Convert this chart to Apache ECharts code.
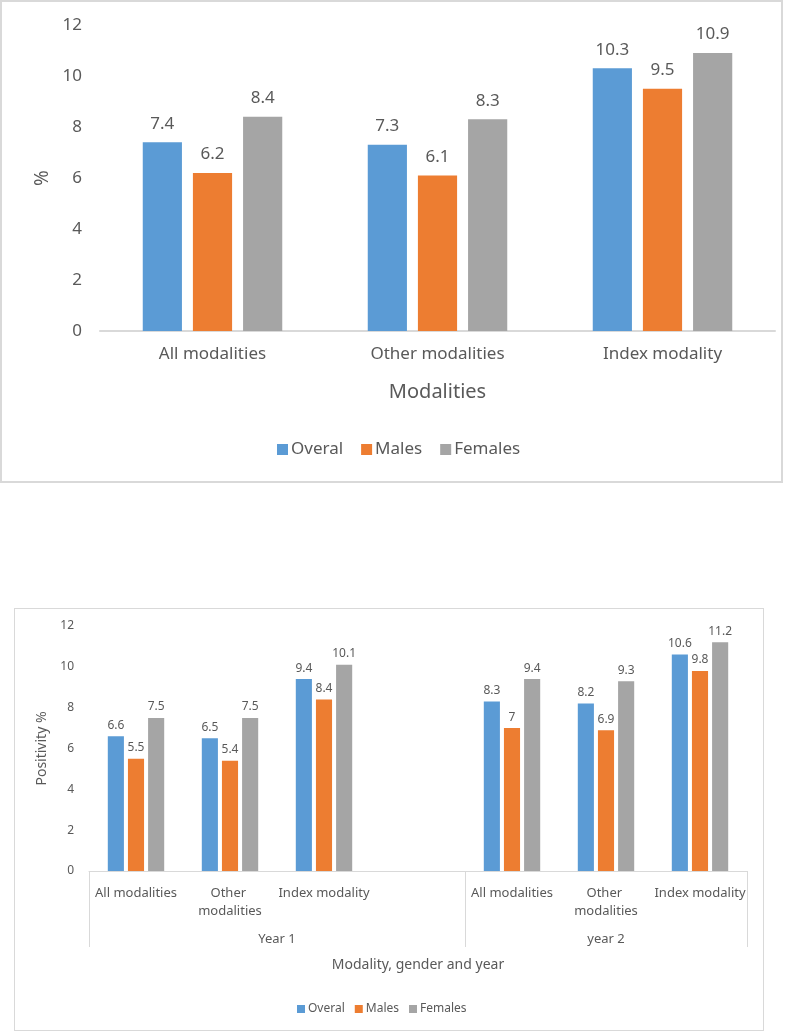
<!DOCTYPE html>
<html>
<head>
<meta charset="utf-8">
<script src="https://cdn.jsdelivr.net/npm/echarts@6/dist/echarts.min.js"></script>
<style>
  html, body { margin: 0; padding: 0; background: #fff; }
  #top { position: absolute; left: 0; top: 0; width: 783px; height: 483px; border: 2px solid #d9d9d9; box-sizing: border-box; }
  #bottom { position: absolute; left: 14px; top: 608px; width: 750px; height: 423px; border: 1px solid #d9d9d9; box-sizing: border-box; }
</style>
</head>
<body>
<div id="top"></div>
<div id="bottom"></div>
<script>
// ---- Data: top chart ----
const topCategories = ['All modalities', 'Other modalities', 'Index modality'];
const topOveral = [7.4, 7.3, 10.3];
const topMales = [6.2, 6.1, 9.5];
const topFemales = [8.4, 8.3, 10.9];

// ---- Data: bottom chart ----
const bottomCategories = ['All modalities', 'Other modalities', 'Index modality', '', 'All modalities', 'Other modalities', 'Index modality'];
const bottomOveral = [6.6, 6.5, 9.4, null, 8.3, 8.2, 10.6];
const bottomMales = [5.5, 5.4, 8.4, null, 7, 6.9, 9.8];
const bottomFemales = [7.5, 7.5, 10.1, null, 9.4, 9.3, 11.2];
const yearLabels = ['Year 1', 'year 2'];
const yearSpans = [4, 3];

const seriesNames = ['Overal', 'Males', 'Females'];
const colors = ['#5b9bd5', '#ed7d31', '#a5a5a5'];
const FONT = '"Noto Sans", "Open Sans", sans-serif';

// ---- Top chart ----
const topChart = echarts.init(document.getElementById('top'));
function topBar(name, data, color) {
  return {
    name: name, type: 'bar', data: data,
    itemStyle: { color: color },
    barCategoryGap: '38%', barGap: '28%',
    label: { show: true, position: 'top', distance: 10, color: '#595959', fontSize: 17, fontFamily: FONT },
    emphasis: { disabled: true }
  };
}
topChart.setOption({
  animation: false,
  textStyle: { fontFamily: FONT },
  color: colors,
  legend: {
    data: seriesNames, left: 270, top: 434,
    itemWidth: 11, itemHeight: 11, itemGap: 18, icon: 'rect',
    textStyle: { fontSize: 17, color: '#595959', fontFamily: FONT, padding: [0, 0, 0, -2] }
  },
  grid: { left: 98, top: 23, width: 675, height: 306 },
  xAxis: {
    type: 'category', data: topCategories,
    name: 'Modalities', nameLocation: 'middle', nameGap: 51,
    nameTextStyle: { fontSize: 20, color: '#595959', fontFamily: FONT },
    axisLine: { lineStyle: { color: '#d9d9d9', width: 2 } },
    axisTick: { show: false },
    axisLabel: { fontSize: 17, color: '#595959', margin: 15, fontFamily: FONT }
  },
  yAxis: {
    type: 'value', min: 0, max: 12, interval: 2,
    name: '%', nameLocation: 'middle', nameGap: 48, nameRotate: 90,
    nameTextStyle: { fontSize: 19, color: '#595959', fontFamily: FONT },
    axisLine: { show: false }, axisTick: { show: false }, splitLine: { show: false },
    axisLabel: { fontSize: 17, color: '#595959', margin: 18, fontFamily: FONT }
  },
  series: [
    topBar(seriesNames[0], topOveral, colors[0]),
    topBar(seriesNames[1], topMales, colors[1]),
    topBar(seriesNames[2], topFemales, colors[2])
  ]
});

// ---- Bottom chart ----
const yearBounds = [0];
yearSpans.forEach(s => yearBounds.push(yearBounds[yearBounds.length - 1] + s));
const yearCenters = yearSpans.map((s, i) => yearBounds[i] + s / 2);
const totalSlots = yearBounds[yearBounds.length - 1];

const bottomChart = echarts.init(document.getElementById('bottom'));
function bottomBar(name, data, color) {
  return {
    name: name, type: 'bar', data: data,
    xAxisIndex: 0, yAxisIndex: 0,
    itemStyle: { color: color },
    barCategoryGap: '40%', barGap: '25%',
    label: { show: true, position: 'top', distance: 5, color: '#595959', fontSize: 12, fontFamily: FONT },
    emphasis: { disabled: true }
  };
}
bottomChart.setOption({
  animation: false,
  textStyle: { fontFamily: FONT },
  color: colors,
  legend: {
    data: seriesNames, left: 277, top: 389,
    itemWidth: 8, itemHeight: 8, itemGap: 10, icon: 'rect',
    textStyle: { fontSize: 12, color: '#595959', fontFamily: FONT, padding: [0, 0, 0, -2] }
  },
  grid: { left: 74, top: 17, width: 658, height: 245 },
  xAxis: [
    {
      type: 'category', data: bottomCategories, position: 'bottom',
      axisLine: { lineStyle: { color: '#d9d9d9' } },
      axisTick: { show: false },
      axisLabel: { fontSize: 13, color: '#595959', margin: 13, interval: 0, width: 96, overflow: 'break', lineHeight: 18, fontFamily: FONT }
    },
    {
      type: 'value', min: 0, max: totalSlots, position: 'bottom',
      name: 'Modality, gender and year', nameLocation: 'middle', nameGap: 87,
      nameTextStyle: { fontSize: 14, color: '#595959', fontFamily: FONT },
      axisLine: { show: false }, splitLine: { show: false },
      axisTick: { show: true, customValues: yearBounds, length: 76, lineStyle: { color: '#d9d9d9' } },
      axisLabel: {
        show: true, customValues: yearCenters, margin: 62, fontSize: 13, color: '#595959', fontFamily: FONT,
        formatter: function (v) {
          const i = yearCenters.indexOf(v);
          return i >= 0 ? yearLabels[i] : '';
        }
      }
    }
  ],
  yAxis: {
    type: 'value', min: 0, max: 12, interval: 2,
    name: 'Positivity %', nameLocation: 'middle', nameGap: 37, nameRotate: 90,
    nameTextStyle: { fontSize: 14, color: '#595959', fontFamily: FONT },
    axisLine: { show: false }, axisTick: { show: false }, splitLine: { show: false },
    axisLabel: { fontSize: 12, color: '#595959', margin: 15, fontFamily: FONT }
  },
  series: [
    bottomBar(seriesNames[0], bottomOveral, colors[0]),
    bottomBar(seriesNames[1], bottomMales, colors[1]),
    bottomBar(seriesNames[2], bottomFemales, colors[2])
  ]
});
</script>
</body>
</html>
